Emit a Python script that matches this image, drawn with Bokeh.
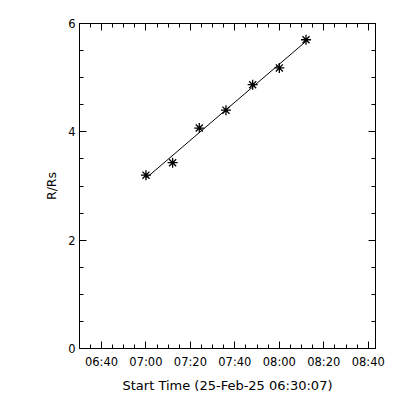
import numpy as np
from bokeh.plotting import figure
from bokeh.models import FixedTicker, LinearAxis, Range1d, CustomJSTickFormatter
from bokeh.embed import file_html
from bokeh.resources import INLINE

# ---- data (times in minutes since 00:00 on 25-Feb-25) ----
obs_times = [420, 432, 444, 456, 468, 480, 492]          # 07:00 ... 08:12
heights = [3.20, 3.43, 4.07, 4.40, 4.87, 5.18, 5.70]       # R/Rs
x_start = 390 + 7 / 60.0                                   # 06:30:07
x_end = 523.25                                             # ~08:43
xtick_values = [400, 420, 440, 460, 480, 500, 520]
xtick_labels = ["06:40", "07:00", "07:20", "07:40", "08:00", "08:20", "08:40"]
ytick_values = [0, 2, 4, 6]
ytick_labels = ["0", "2", "4", "6"]
y_min, y_max = 0, 6
x_title = "Start Time (25-Feb-25 06:30:07)"
y_title = "R/Rs"

FONT = "DejaVu Sans"

x_minor = [m for m in range(395, 525, 5) if m not in xtick_values]
y_minor = [v / 2 for v in range(0, 13) if (v / 2) not in ytick_values]

p = figure(frame_width=296, frame_height=325,
           x_range=Range1d(x_start, x_end), y_range=Range1d(y_min, y_max),
           output_backend="svg", toolbar_location=None,
           min_border_left=79, min_border_right=17,
           min_border_top=23, min_border_bottom=44)
p.background_fill_color = "white"
p.border_fill_color = "white"
p.grid.visible = False
p.outline_line_color = "black"
p.outline_line_width = 1

xt = FixedTicker(ticks=xtick_values, minor_ticks=x_minor)
yt = FixedTicker(ticks=ytick_values, minor_ticks=y_minor)

def style(ax):
    ax.axis_line_color = "black"
    ax.major_tick_line_color = "black"
    ax.minor_tick_line_color = "black"
    ax.major_tick_in = 7
    ax.major_tick_out = 0
    ax.minor_tick_in = 4
    ax.minor_tick_out = 0
    ax.major_label_text_font = FONT
    ax.major_label_text_font_size = "11.5px"
    ax.major_label_text_color = "black"
    ax.axis_label_text_font = FONT
    ax.axis_label_text_font_size = "12.5px"
    ax.axis_label_text_font_style = "normal"
    ax.axis_label_text_color = "black"

xa = p.xaxis[0]
xa.ticker = xt
xa.major_label_overrides = {v: l for v, l in zip(xtick_values, xtick_labels)}
xa.axis_label = x_title
style(xa)
xa.axis_label_text_font_size = "13px"
xa.major_label_standoff = 6
xa.axis_label_standoff = 6

ya = p.yaxis[0]
ya.ticker = yt
ya.major_label_overrides = {v: l for v, l in zip(ytick_values, ytick_labels)}
ya.axis_label = y_title
style(ya)
ya.major_label_standoff = 4
ya.axis_label_standoff = 6

blank = CustomJSTickFormatter(code="return ''")
top = LinearAxis(ticker=xt, formatter=blank)
style(top)
top.major_label_text_font_size = "0px"
top.major_label_standoff = 0
p.add_layout(top, "above")
right = LinearAxis(ticker=yt, formatter=blank)
style(right)
right.major_label_text_font_size = "0px"
right.major_label_standoff = 0
p.add_layout(right, "right")

# linear fit of height vs time
t = np.array(obs_times, dtype=float)
h = np.array(heights)
slope, icpt = np.polyfit(t, h, 1)
fit_x = [t[0], t[-1]]
fit_y = [slope * t[0] + icpt, slope * t[-1] + icpt]
p.line(fit_x, fit_y, line_color="black", line_width=1)

p.scatter(obs_times, heights, marker="asterisk", size=10,
          line_color="black", line_width=1.3)

open("out.html", "w").write(file_html(p, INLINE))
